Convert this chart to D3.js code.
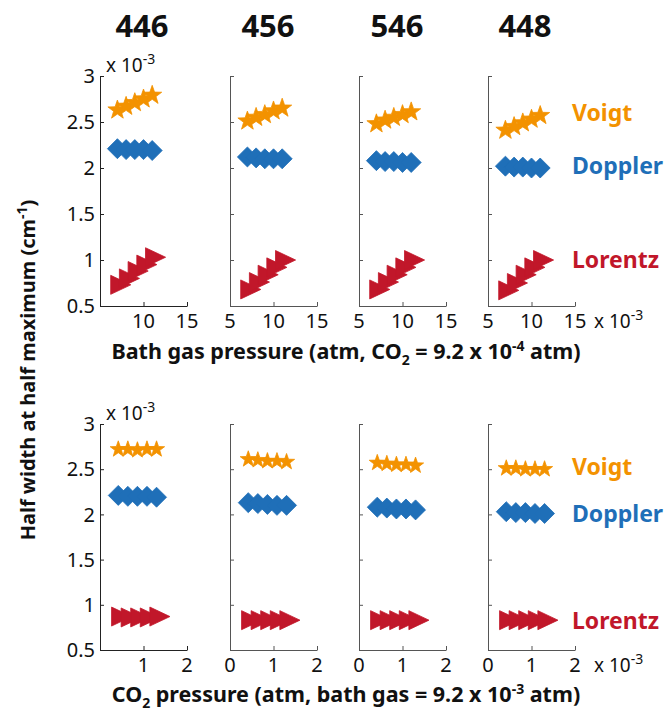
<!DOCTYPE html>
<html>
<head>
<meta charset="utf-8">
<script src="https://cdn.jsdelivr.net/npm/d3@7"></script>
<style>
  html, body { margin: 0; padding: 0; background: #fff; }
  svg text { font-family: "Noto Sans", "Open Sans", sans-serif; }
</style>
</head>
<body>
<div id="chart"></div>
<script>
// panel titles (isotopologues)
const panels = ["446", "456", "546", "448"];

// top row: bath gas pressure (x 10^-3 atm)
const bathX = [7, 8, 9, 10, 11];
const bathVoigt = [
  [2.63, 2.67, 2.71, 2.75, 2.79],
  [2.51, 2.55, 2.58, 2.62, 2.65],
  [2.48, 2.52, 2.55, 2.58, 2.61],
  [2.41, 2.45, 2.49, 2.53, 2.57]
];
const bathDoppler = [
  [2.21, 2.20, 2.20, 2.20, 2.19],
  [2.12, 2.11, 2.10, 2.10, 2.10],
  [2.08, 2.07, 2.07, 2.06, 2.06],
  [2.02, 2.01, 2.01, 2.00, 2.00]
];
const bathLorentz = [
  [0.73, 0.80, 0.88, 0.95, 1.03],
  [0.68, 0.76, 0.84, 0.92, 1.00],
  [0.68, 0.76, 0.84, 0.92, 1.00],
  [0.67, 0.75, 0.84, 0.92, 1.00]
];

// bottom row: CO2 pressure (x 10^-3 atm)
const co2X = [0.42, 0.64, 0.86, 1.08, 1.30];
const co2Voigt = [
  [2.72, 2.72, 2.71, 2.72, 2.72],
  [2.61, 2.60, 2.59, 2.59, 2.58],
  [2.57, 2.56, 2.55, 2.55, 2.54],
  [2.51, 2.51, 2.50, 2.50, 2.50]
];
const co2Doppler = [
  [2.21, 2.20, 2.20, 2.20, 2.19],
  [2.13, 2.12, 2.11, 2.10, 2.10],
  [2.08, 2.07, 2.06, 2.06, 2.05],
  [2.03, 2.02, 2.02, 2.01, 2.01]
];
const co2Lorentz = [
  [0.87, 0.86, 0.86, 0.86, 0.87],
  [0.83, 0.83, 0.83, 0.83, 0.83],
  [0.83, 0.83, 0.83, 0.83, 0.83],
  [0.83, 0.83, 0.83, 0.83, 0.83]
];

const yTicks = [0.5, 1, 1.5, 2, 2.5, 3];
const bathTicks = [5, 10, 15];
const co2Ticks = [0, 1, 2];

const colours = { voigt: "#F39200", doppler: "#1F6FB8", lorentz: "#C1172A" };

const sizes = { width: 667, height: 713 };
const panelLeft = [100, 230, 359, 488];
const panelW = 87;
const rows = [
  { top: 76, bottom: 306, xDomain: [5, 15], xTicks: bathTicks, xs: bathX,
    voigt: bathVoigt, doppler: bathDoppler, lorentz: bathLorentz, starR: 10,
    legendY: [113, 166, 260], labelY: 359 },
  { top: 424, bottom: 650, xDomain: [0, 2], xTicks: co2Ticks, xs: co2X,
    voigt: co2Voigt, doppler: co2Doppler, lorentz: co2Lorentz, starR: 8.5,
    legendY: [467, 514, 621], labelY: 702 }
];

// marker paths
const starPath = (r) => {
  const pts = [];
  for (let i = 0; i < 10; i++) {
    const rr = i % 2 === 0 ? r : r * 0.4;
    const a = -Math.PI / 2 + i * Math.PI / 5;
    pts.push([rr * Math.cos(a), rr * Math.sin(a)]);
  }
  return "M" + pts.map(p => p.join(",")).join("L") + "Z";
};
const diamondPath = (w, h) => `M${-w},0L0,${-h}L${w},0L0,${h}Z`;
// right-pointing triangle centred on its centroid
const triPath = (a, h) => `M${-a},${-h}L${2 * a},0L${-a},${h}Z`;

const svg = d3.select("#chart").append("svg")
  .attr("width", sizes.width)
  .attr("height", sizes.height)
  .attr("viewBox", `0 0 ${sizes.width} ${sizes.height}`);

// titles
const titleX = [142, 268, 397, 525];
panels.forEach((p, i) => {
  svg.append("text")
    .text(p)
    .attr("x", titleX[i])
    .attr("y", 37)
    .style("text-anchor", "middle")
    .style("font-size", "31px")
    .style("font-weight", "bold")
    .style("fill", "#111");
});

const tickFont = "20px";

const exponent = (sel) => {
  sel.append("tspan").text("x 10");
  sel.append("tspan").text("-3").attr("dy", "-8").style("font-size", "14px");
};

rows.forEach((row, ri) => {
  const y = d3.scaleLinear()
    .domain([0.5, 3])
    .range([row.bottom, row.top]);

  panels.forEach((p, pi) => {
    const left = panelLeft[pi];
    const axisColour = pi === 0 ? "#222" : "#555";
    const x = d3.scaleLinear()
      .domain(row.xDomain)
      .range([left, left + panelW]);

    const g = svg.append("g");

    // y axis, ticks pointing inward
    g.append("g")
      .attr("transform", `translate(${left},0)`)
      .call(d3.axisRight(y).tickValues(yTicks).tickSize(4).tickSizeOuter(0).tickFormat(""))
      .call(a => a.selectAll("line, path").attr("stroke", axisColour));

    // x axis, ticks pointing up
    g.append("g")
      .attr("transform", `translate(0,${row.bottom})`)
      .call(d3.axisTop(x).tickValues(row.xTicks).tickSize(4).tickSizeOuter(0).tickFormat(""))
      .call(a => a.selectAll("line, path").attr("stroke", axisColour));

    // x tick labels (first panel skips the first one)
    g.selectAll(".xlab")
      .data(pi === 0 ? row.xTicks.slice(1) : row.xTicks)
      .enter()
      .append("text")
        .text(d => d)
        .attr("x", d => x(d))
        .attr("y", row.bottom + 22)
        .style("text-anchor", "middle")
        .style("font-size", tickFont)
        .style("fill", "#111");

    if (pi === 0) {
      g.selectAll(".ylab")
        .data(yTicks)
        .enter()
        .append("text")
          .text(d => d)
          .attr("x", left - 5)
          .attr("y", d => y(d))
          .attr("dy", "0.36em")
          .style("text-anchor", "end")
          .style("font-size", tickFont)
          .style("fill", "#111");

      g.append("text")
        .attr("x", left + 6)
        .attr("y", row.top - 4)
        .style("font-size", "19px")
        .style("fill", "#111")
        .call(exponent);
    }

    // markers: lorentz, doppler, voigt
    const series = [
      { vals: row.lorentz[pi], col: colours.lorentz, d: triPath(6.7, 9.5) },
      { vals: row.doppler[pi], col: colours.doppler, d: diamondPath(10, 10) },
      { vals: row.voigt[pi], col: colours.voigt, d: starPath(row.starR) }
    ];
    series.forEach(s => {
      g.append("g")
        .selectAll("path")
        .data(s.vals)
        .enter()
        .append("path")
          .attr("d", s.d)
          .attr("transform", (d, i) => `translate(${x(row.xs[i])},${y(d)})`)
          .style("fill", s.col)
          .style("stroke", s.col)
          .style("stroke-width", 0.8);
    });
  });

  // x exponent right of last panel
  svg.append("text")
    .attr("x", 594)
    .attr("y", row.bottom + 22)
    .style("font-size", "19px")
    .style("fill", "#111")
    .call(exponent);

  // legend labels
  [["Voigt", colours.voigt], ["Doppler", colours.doppler], ["Lorentz", colours.lorentz]]
    .forEach(([t, c], li) => {
      svg.append("text")
        .text(t)
        .attr("x", 572)
        .attr("y", row.legendY[li])
        .attr("dy", "0.36em")
        .style("font-size", "23px")
        .style("font-weight", "bold")
        .style("fill", c);
    });
});

// x axis labels
const xl1 = svg.append("text")
  .attr("x", 346).attr("y", rows[0].labelY)
  .style("text-anchor", "middle")
  .style("font-size", "21.5px").style("font-weight", "bold").style("fill", "#111");
xl1.append("tspan").text("Bath gas pressure (atm, CO");
xl1.append("tspan").text("2").attr("dy", 6).style("font-size", "14px");
xl1.append("tspan").text(" = 9.2 x 10").attr("dy", -6);
xl1.append("tspan").text("-4").attr("dy", -8).style("font-size", "14px");
xl1.append("tspan").text(" atm)").attr("dy", 8);

const xl2 = svg.append("text")
  .attr("x", 346).attr("y", rows[1].labelY)
  .style("text-anchor", "middle")
  .style("font-size", "21.5px").style("font-weight", "bold").style("fill", "#111");
xl2.append("tspan").text("CO");
xl2.append("tspan").text("2").attr("dy", 6).style("font-size", "14px");
xl2.append("tspan").text(" pressure (atm, bath gas = 9.2 x 10").attr("dy", -6);
xl2.append("tspan").text("-3").attr("dy", -8).style("font-size", "14px");
xl2.append("tspan").text(" atm)").attr("dy", 8);

// y axis label
const yl = svg.append("text")
  .attr("transform", "translate(35,370) rotate(-90)")
  .style("text-anchor", "middle")
  .style("font-size", "20px").style("font-weight", "bold").style("fill", "#111");
yl.append("tspan").text("Half width at half maximum (cm");
yl.append("tspan").text("-1").attr("dy", -8).style("font-size", "14px");
yl.append("tspan").text(")").attr("dy", 8);
</script>
</body>
</html>
